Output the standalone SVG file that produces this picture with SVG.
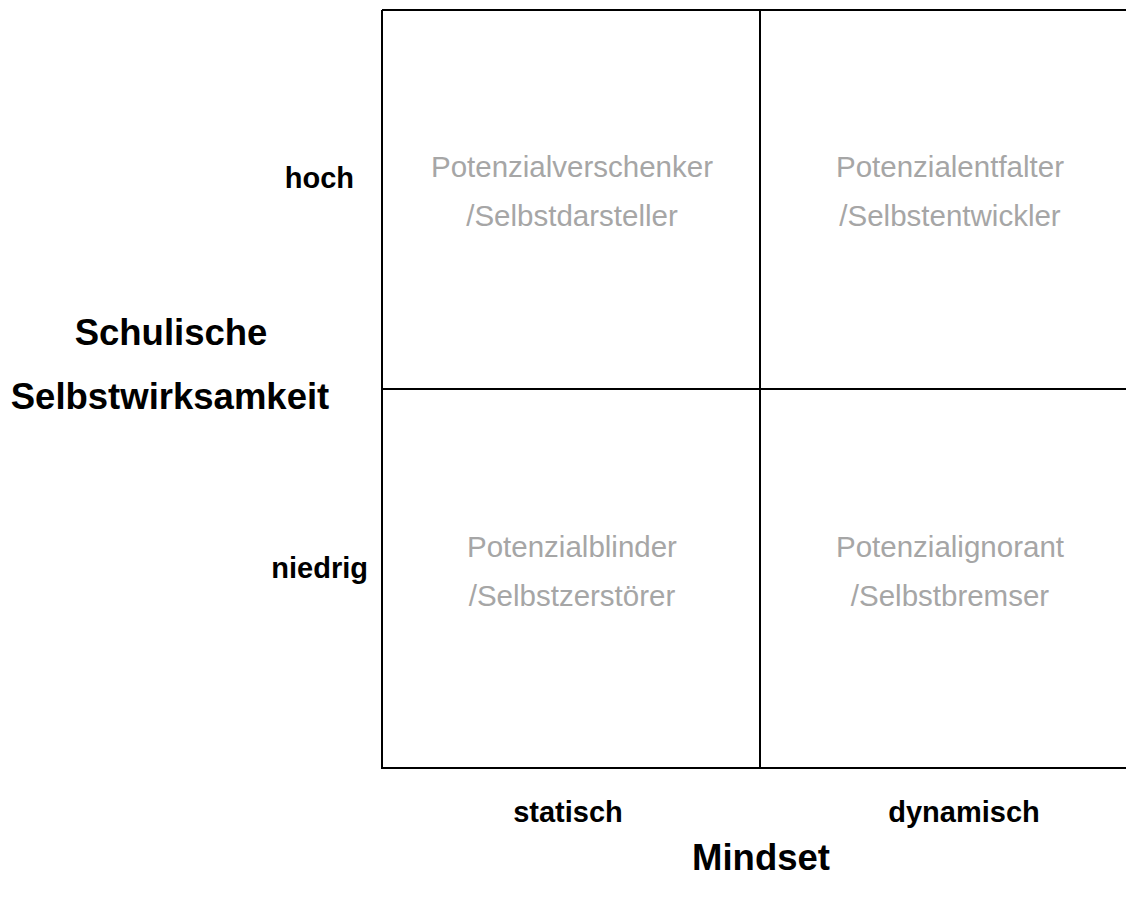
<svg xmlns="http://www.w3.org/2000/svg" width="1126" height="898" viewBox="0 0 1126 898">
<style>
.q{font-family:"Liberation Sans",Arial,sans-serif;font-size:29.5px;fill:#a6a6a6;text-anchor:middle}
.b{font-family:"Liberation Sans",Arial,sans-serif;font-weight:bold;fill:#000}
.ln{stroke:#000;stroke-width:2;fill:none}
</style>
<rect width="1126" height="898" fill="#fff"/>
<g id="grid">
<path class="ln" d="M382,10H1140M382,10V768H1140M382,389H1140M760,10V768"/>
</g>
<g id="q-hs"><text class="q" x="572" y="177">Potenzialverschenker</text><text class="q" x="572" y="226">/Selbstdarsteller</text></g>
<g id="q-hd"><text class="q" x="950" y="177">Potenzialentfalter</text><text class="q" x="950" y="226">/Selbstentwickler</text></g>
<g id="q-ns"><text class="q" x="572" y="557">Potenzialblinder</text><text class="q" x="572" y="606">/Selbstzerstörer</text></g>
<g id="q-nd"><text class="q" x="950" y="557">Potenzialignorant</text><text class="q" x="950" y="606">/Selbstbremser</text></g>
<g id="labels">
<text class="b" x="354" y="188" font-size="29" text-anchor="end">hoch</text>
<text class="b" x="368" y="578" font-size="29" text-anchor="end">niedrig</text>
<text class="b" x="171" y="345" font-size="36.5" text-anchor="middle">Schulische</text>
<text class="b" x="170" y="409" font-size="36.5" text-anchor="middle">Selbstwirksamkeit</text>
<text class="b" x="568" y="822" font-size="29" text-anchor="middle">statisch</text>
<text class="b" x="964" y="822" font-size="29" text-anchor="middle">dynamisch</text>
<text class="b" x="761" y="870" font-size="36.5" text-anchor="middle">Mindset</text>
</g>
</svg>
